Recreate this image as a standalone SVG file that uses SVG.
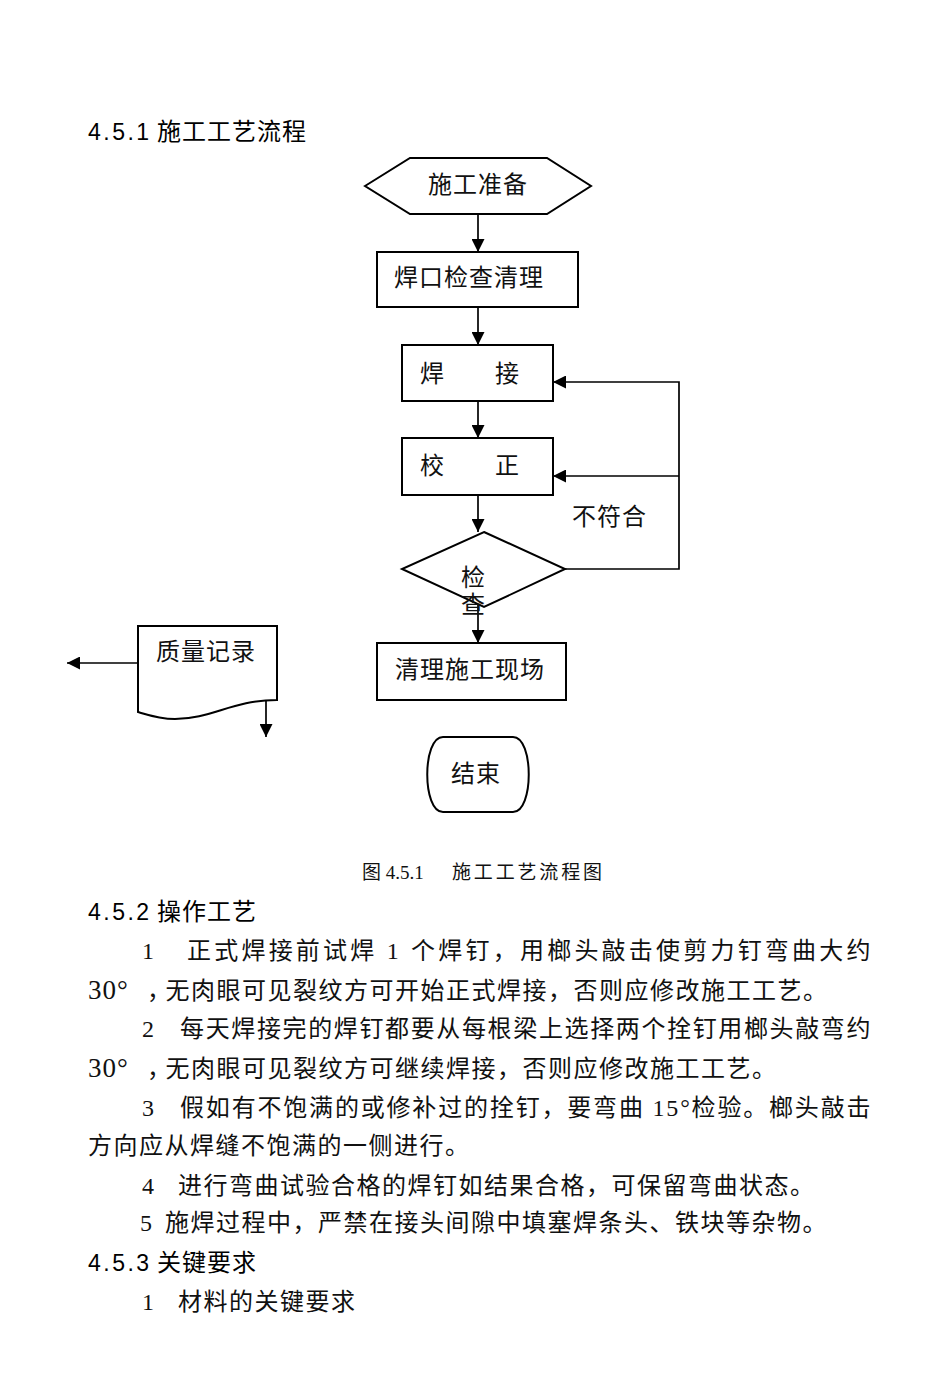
<svg xmlns="http://www.w3.org/2000/svg" width="950" height="1378" viewBox="0 0 950 1378">
<style>
.bg{fill:#fff}
.shape{fill:#fff;stroke:#000;stroke-width:2}
.con{fill:none;stroke:#000;stroke-width:1.7}
.lbl{font-family:"Liberation Serif","Noto Sans CJK SC",serif;font-size:24px;fill:#111;letter-spacing:1px}
.head{font-family:"Liberation Sans","Noto Sans CJK SC",sans-serif;font-size:24px;fill:#000;letter-spacing:1px}
.headnum{font-family:"Liberation Sans",sans-serif;font-size:23px;letter-spacing:2.5px}
.body{font-family:"Liberation Serif","Noto Sans CJK SC",serif;font-size:24px;fill:#111;letter-spacing:1.5px}
.deg{font-size:27px;letter-spacing:1px}
.comma{letter-spacing:-5.5px}
.cap{font-family:"Liberation Serif","Noto Sans CJK SC",serif;font-size:19px;fill:#111}
</style>
<defs>
<marker id="arr" viewBox="0 0 13 13" refX="13" refY="6.5" markerWidth="13" markerHeight="13" markerUnits="userSpaceOnUse" orient="auto">
<path d="M0,0 L13,6.5 L0,13 z" fill="#000"/>
</marker>
</defs>
<rect class="bg" x="0" y="0" width="950" height="1378"/>

<text class="head" x="88" y="140"><tspan class="headnum">4.5.1</tspan><tspan x="157">施工工艺流程</tspan></text>

<g id="connectors">
<line class="con" x1="478" y1="214" x2="478" y2="252" marker-end="url(#arr)"/>
<line class="con" x1="478" y1="307" x2="478" y2="345" marker-end="url(#arr)"/>
<line class="con" x1="478" y1="401" x2="478" y2="438" marker-end="url(#arr)"/>
<line class="con" x1="478" y1="495" x2="478" y2="532" marker-end="url(#arr)"/>
<line class="con" x1="478" y1="604" x2="478" y2="643" marker-end="url(#arr)"/>
<polyline class="con" points="565,569 679,569 679,382 553,382" marker-end="url(#arr)"/>
<line class="con" x1="679" y1="476" x2="553" y2="476" marker-end="url(#arr)"/>
<line class="con" x1="165" y1="663" x2="67" y2="663" marker-end="url(#arr)"/>
<line class="con" x1="266" y1="700" x2="266" y2="737" marker-end="url(#arr)"/>
<text class="lbl" x="572" y="525">不符合</text>
</g>

<g id="start">
<polygon class="shape" points="365,186 410,158 547,158 591,186 547,214 410,214"/>
<text class="lbl" x="428" y="193">施工准备</text>
</g>

<g id="inspect-clean">
<rect class="shape" x="377" y="252" width="201" height="55"/>
<text class="lbl" x="394" y="286">焊口检查清理</text>
</g>

<g id="weld">
<rect class="shape" x="402" y="345" width="151" height="56"/>
<text class="lbl" x="420" y="382" xml:space="preserve">焊　　接</text>
</g>

<g id="correct">
<rect class="shape" x="402" y="438" width="151" height="57"/>
<text class="lbl" x="420" y="474" xml:space="preserve">校　　正</text>
</g>

<g id="check">
<polygon class="shape" points="484,532 565,569 484,607 402,569" fill="none"/>
<text class="lbl" x="461" y="586">检</text>
<text class="lbl" x="461" y="613">查</text>
</g>

<g id="clean-site">
<rect class="shape" x="377" y="643" width="189" height="57"/>
<text class="lbl" x="395" y="678">清理施工现场</text>
</g>

<g id="end">
<path class="shape" d="M443,737 H513 C534,737 534,812 513,812 H443 C422,812 422,737 443,737 Z"/>
<text class="lbl" x="451" y="782">结束</text>
</g>

<g id="quality-record">
<path class="shape" d="M138,626 H277 V700 C232,700 212,719 175,719 C160,719 148,715 138,712 Z"/>
<text class="lbl" x="156" y="660">质量记录</text>
</g>

<text class="cap" x="362" y="879">图 4.5.1<tspan x="452" textLength="150" lengthAdjust="spacing">施工工艺流程图</tspan></text>

<text class="head" x="88" y="920"><tspan class="headnum">4.5.2</tspan><tspan x="157">操作工艺</tspan></text>

<text class="body" y="959"><tspan x="142">1</tspan><tspan x="187" textLength="685" lengthAdjust="spacing">正式焊接前试焊 1 个焊钉，用榔头敲击使剪力钉弯曲大约</tspan></text>
<text class="body" y="999"><tspan x="88" class="deg">30°</tspan><tspan x="147" class="comma">，</tspan><tspan>无肉眼可见裂纹方可开始正式焊接，否则应修改施工工艺。</tspan></text>
<text class="body" y="1037"><tspan x="142">2</tspan><tspan x="180" textLength="692" lengthAdjust="spacing">每天焊接完的焊钉都要从每根梁上选择两个拴钉用榔头敲弯约</tspan></text>
<text class="body" y="1077"><tspan x="88" class="deg">30°</tspan><tspan x="147" class="comma">，</tspan><tspan>无肉眼可见裂纹方可继续焊接，否则应修改施工工艺。</tspan></text>
<text class="body" y="1116"><tspan x="142">3</tspan><tspan x="180" textLength="692" lengthAdjust="spacing">假如有不饱满的或修补过的拴钉，要弯曲 15°检验。榔头敲击</tspan></text>
<text class="body" x="88" y="1154">方向应从焊缝不饱满的一侧进行。</text>
<text class="body" y="1194"><tspan x="142">4</tspan><tspan x="178">进行弯曲试验合格的焊钉如结果合格，可保留弯曲状态。</tspan></text>
<text class="body" y="1231"><tspan x="140">5</tspan><tspan x="165">施焊过程中，严禁在接头间隙中填塞焊条头、铁块等杂物。</tspan></text>

<text class="head" x="88" y="1271"><tspan class="headnum">4.5.3</tspan><tspan x="157">关键要求</tspan></text>

<text class="body" y="1310"><tspan x="142">1</tspan><tspan x="178">材料的关键要求</tspan></text>
</svg>
